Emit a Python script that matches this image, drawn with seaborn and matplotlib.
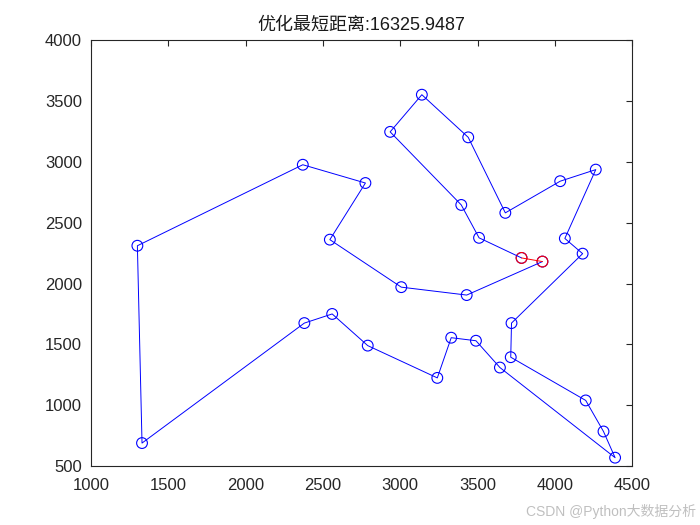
import matplotlib
matplotlib.use("Agg")
import matplotlib.pyplot as plt
import seaborn as sns
import pandas as pd

# Route (city coordinates in visiting order)
route_x = [3920, 3430, 3007, 2545, 2775, 2370, 1300, 1330, 2380, 2560, 2790,
           3240, 3330, 3490, 3645, 4390, 4315, 4200, 3715, 3720, 4180, 4065,
           4265, 4035, 3680, 3440, 3140, 2935, 3395, 3510, 3785]
route_y = [2180, 1905, 1970, 2360, 2825, 2975, 2310, 690, 1675, 1750, 1490,
           1225, 1555, 1530, 1310, 570, 785, 1040, 1395, 1675, 2245, 2370,
           2935, 2840, 2580, 3200, 3550, 3245, 2645, 2375, 2210]
title_text = "优化最短距离:16325.9487"
x_ticks = [1000, 1500, 2000, 2500, 3000, 3500, 4000, 4500]
y_ticks = [500, 1000, 1500, 2000, 2500, 3000, 3500, 4000]

sns.set_style("white")
plt.rcParams['font.family'] = ['Liberation Sans', 'Noto Sans CJK SC', 'DejaVu Sans']

df = pd.DataFrame({"x": route_x, "y": route_y, "order": range(len(route_x))})
closing = pd.DataFrame({"x": [route_x[-1], route_x[0]],
                        "y": [route_y[-1], route_y[0]],
                        "order": [0, 1]})

fig = plt.figure(figsize=(7, 5.25), dpi=100)
ax = fig.add_axes([0.13, 0.112, 0.773, 0.812])

sns.lineplot(data=df, x="x", y="y", sort=False, estimator=None, color="#0000ff",
             linewidth=0.7, ax=ax)
sns.scatterplot(data=df, x="x", y="y", marker="o", s=60, facecolor="none",
                edgecolor="#0000ff", linewidth=0.8, ax=ax)
sns.lineplot(data=closing, x="x", y="y", sort=False, estimator=None, color="#ff0000",
             linewidth=0.7, ax=ax)
sns.scatterplot(data=closing, x="x", y="y", marker="o", s=60, facecolor="none",
                edgecolor="#ff0000", linewidth=0.8, ax=ax)

ax.set_xlim(1000, 4500)
ax.set_ylim(500, 4000)
ax.set_xticks(x_ticks)
ax.set_yticks(y_ticks)
ax.set_xlabel("")
ax.set_ylabel("")
ax.tick_params(direction="in", length=4, width=0.8, top=True, right=True,
               labelsize=12, colors="#262626")
ax.tick_params(axis="x", pad=8.5)
ax.tick_params(axis="y", pad=6.5)
for sp in ax.spines.values():
    sp.set_visible(True)
    sp.set_color("#262626")
    sp.set_linewidth(0.8)
ax.set_title(title_text, fontsize=13, color="#1a1a1a", pad=7)

fig.text(0.995, 0.012, "CSDN @Python大数据分析", ha="right", va="bottom",
         fontsize=10, color="#b0b0b0", alpha=0.8)

fig.savefig("out.png", dpi=100, facecolor="white")
